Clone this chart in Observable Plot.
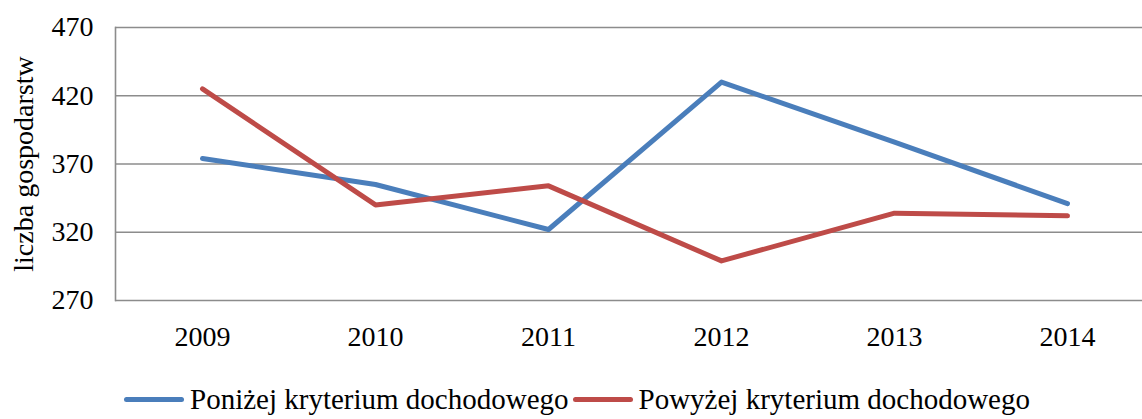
<!DOCTYPE html>
<html>
<head>
<meta charset="utf-8">
<script src="https://cdn.jsdelivr.net/npm/d3@7"></script>
<script src="https://cdn.jsdelivr.net/npm/@observablehq/plot@0.6"></script>
<style>
  html, body { margin: 0; padding: 0; background: #fff; }
  #chart { width: 1142px; overflow: hidden; }
  .legend { display: flex; justify-content: center; align-items: center;
    font-family: 'Liberation Serif', serif; font-size: 29px; color: #000;
    height: 40px; margin-top: 14px; margin-left: 8px; }
  .sw { display: inline-block; width: 60px; height: 5px; border-radius: 3px; margin-right: 6px; margin-left: 4px; }
  .item { display: flex; align-items: center; }
</style>
</head>
<body>
<div id="chart"></div>
<script>
const years = ["2009", "2010", "2011", "2012", "2013", "2014"];
const seriesNames = ["Poniżej kryterium dochodowego", "Powyżej kryterium dochodowego"];
const below = [374, 355, 322, 430, 386, 341];
const above = [425, 340, 354, 299, 334, 332];
const yTicks = [270, 320, 370, 420, 470];
const yTitle = "liczba gospodarstw";
const colors = ["#4A7EBB", "#BE4B48"];

const data = [
  ...years.map((y, i) => ({year: y, value: below[i], series: seriesNames[0]})),
  ...years.map((y, i) => ({year: y, value: above[i], series: seriesNames[1]}))
];

const plot = Plot.plot({
  width: 1142,
  height: 365,
  marginTop: 27,
  marginBottom: 65,
  marginLeft: 115,
  marginRight: 0,
  style: {fontFamily: "'Liberation Serif', serif", fontSize: "28px", color: "#000", background: "#fff"},
  x: {type: "point", domain: years, range: [115, 1153], padding: 0.5, label: null},
  y: {domain: [270, 470], ticks: yTicks, label: null},
  color: {domain: seriesNames, range: colors},
  marks: [
    Plot.ruleY(yTicks, {stroke: "#8c8c8c", strokeWidth: 1.6}),
    Plot.frame({anchor: "left", stroke: "#8c8c8c", strokeWidth: 1.6}),
    Plot.axisX({tickSize: 0, tickPadding: 26, fontSize: 28}),
    Plot.axisY({ticks: yTicks, tickSize: 0, tickPadding: 22, fontSize: 28, tickFormat: d => String(d)}),
    Plot.text([yTitle], {frameAnchor: "left", dx: -91, rotate: -90, textAnchor: "middle", lineAnchor: "middle", text: d => d, fontSize: 28}),
    Plot.line(data, {x: "year", y: "value", z: "series", stroke: "series", strokeWidth: 5, strokeLinecap: "round", strokeLinejoin: "round"})
  ]
});
document.getElementById("chart").appendChild(plot);

const legend = document.createElement("div");
legend.className = "legend";
legend.style.fontFamily = "'Liberation Serif', serif";
seriesNames.forEach((name, i) => {
  const item = document.createElement("span");
  item.className = "item";
  const sw = document.createElement("span");
  sw.className = "sw";
  sw.style.background = colors[i];
  item.appendChild(sw);
  item.appendChild(document.createTextNode(name));
  legend.appendChild(item);
});
document.getElementById("chart").appendChild(legend);
</script>
</body>
</html>
